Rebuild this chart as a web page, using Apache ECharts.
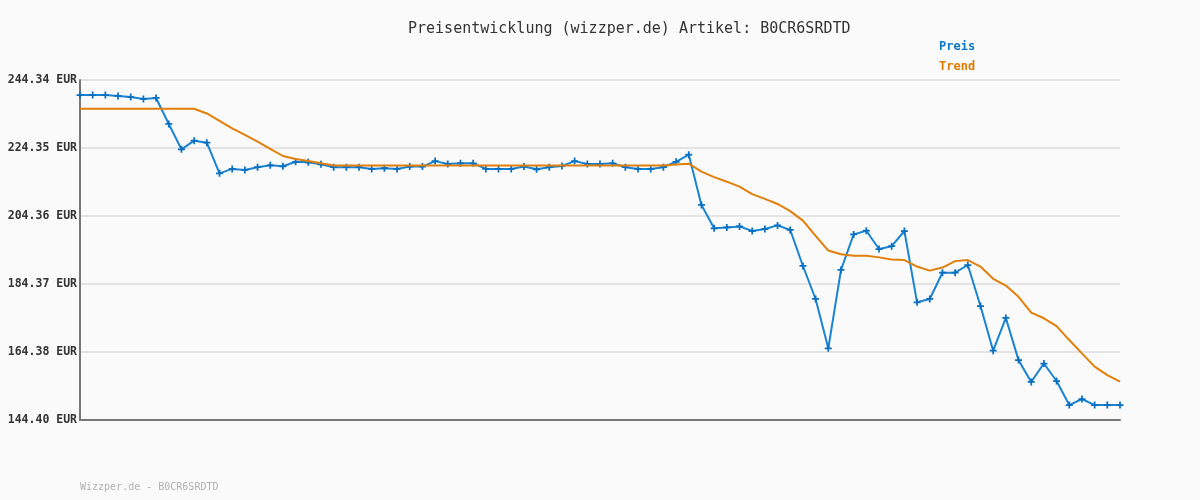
<!DOCTYPE html>
<html>
<head>
<meta charset="utf-8">
<script src="https://cdn.jsdelivr.net/npm/echarts@6/dist/echarts.min.js"></script>
<style>
html,body{margin:0;padding:0;background:#fafafa;}
#chart{width:1200px;height:500px;}
</style>
</head>
<body>
<div id="chart"></div>
<script>
var titleText = 'Preisentwicklung (wizzper.de) Artikel: B0CR6SRDTD';
var footerText = 'Wizzper.de - B0CR6SRDTD';
var tickLabels = ['144.40', '164.38', '184.37', '204.36', '224.35', '244.34'];
var axisMin = 144.40;
var axisMax = 244.34;

var priceValues = [
  239.93, 239.93, 239.93, 239.64, 239.34, 238.76, 239.05, 231.41, 223.97, 226.50,
  225.90, 216.90, 218.20, 217.90, 218.70, 219.25, 218.97, 220.30, 220.15, 219.56,
  218.70, 218.70, 218.70, 218.20, 218.40, 218.20, 218.90, 218.90, 220.50, 219.65,
  219.85, 219.85, 218.20, 218.20, 218.20, 218.90, 218.10, 218.70, 219.06, 220.50,
  219.65, 219.65, 219.85, 218.70, 218.20, 218.20, 218.70, 220.30, 222.40, 207.60,
  200.75, 201.00, 201.30, 199.95, 200.54, 201.60, 200.25, 189.67, 179.97, 165.46,
  188.50, 198.96, 200.04, 194.65, 195.50, 199.95, 178.99, 179.97, 187.70, 187.70,
  189.96, 177.90, 164.76, 174.40, 162.00, 155.60, 161.00, 155.86, 148.80, 150.57,
  148.80, 148.80, 148.80
];

var trendValues = [
  235.90, 235.90, 235.90, 235.90, 235.90, 235.90, 235.90, 235.90, 235.90, 235.90,
  234.50, 232.30, 230.10, 228.20, 226.20, 224.10, 222.00, 221.10, 220.50, 219.85,
  219.20, 219.20, 219.20, 219.20, 219.20, 219.20, 219.20, 219.20, 219.20, 219.20,
  219.20, 219.20, 219.20, 219.20, 219.20, 219.20, 219.20, 219.20, 219.20, 219.20,
  219.20, 219.20, 219.20, 219.20, 219.20, 219.20, 219.20, 219.50, 219.75, 217.40,
  215.80, 214.45, 213.00, 210.80, 209.40, 207.90, 205.80, 203.00, 198.50, 194.20,
  193.10, 192.70, 192.70, 192.20, 191.60, 191.40, 189.50, 188.30, 189.20, 191.10,
  191.40, 189.50, 185.90, 183.90, 180.60, 175.95, 174.30, 172.00, 167.90, 164.00,
  160.10, 157.60, 155.70
];

var categories = priceValues.map(function (v, i) { return String(i + 1); });

// map EUR values to tick-step units so that axis ticks fall exactly on the labelled values
var step = (axisMax - axisMin) / (tickLabels.length - 1);
function toUnits(v) { return (v - axisMin) / step; }

var mono = '"DejaVu Sans Mono", "Liberation Mono", monospace';
var blue = '#1a84d2';
var orange = '#e27f0a';

var chart = echarts.init(document.getElementById('chart'), null, {renderer: 'canvas'});
chart.setOption({
  backgroundColor: '#fafafa',
  animation: false,
  title: {
    text: titleText,
    left: 403,
    top: 17,
    textStyle: {fontFamily: mono, fontSize: 15, fontWeight: 'normal', color: '#333'}
  },
  graphic: [
    {type: 'text', left: 939, top: 41, style: {text: 'Preis', fill: '#0b78c8', font: 'bold 12px ' + mono}},
    {type: 'text', left: 939, top: 61, style: {text: 'Trend', fill: '#e07a00', font: 'bold 12px ' + mono}},
    {type: 'text', left: 80, top: 482, style: {text: footerText, fill: '#b0b0b0', font: '10px ' + mono}}
  ],
  grid: {left: 80, right: 80, top: 80, bottom: 80, containLabel: false},
  xAxis: {
    type: 'category',
    data: categories,
    boundaryGap: false,
    axisLine: {show: true, lineStyle: {color: '#777777', width: 2}},
    axisTick: {show: false},
    axisLabel: {show: false},
    splitLine: {show: false}
  },
  yAxis: {
    type: 'value',
    min: 0,
    max: tickLabels.length - 1,
    interval: 1,
    axisLine: {show: true, lineStyle: {color: '#777777', width: 2}},
    axisTick: {show: false},
    axisLabel: {
      margin: 3,
      fontFamily: mono,
      fontSize: 11.5,
      fontWeight: 'bold',
      color: '#333',
      formatter: function (val) { return tickLabels[Math.round(val)] + ' EUR'; }
    },
    splitLine: {show: true, lineStyle: {color: '#e4e4e4', width: 2}}
  },
  series: [
    {
      name: 'Preis',
      type: 'line',
      data: priceValues.map(toUnits),
      symbol: 'path://M3,0H5V3H8V5H5V8H3V5H0V3H3Z',
      symbolSize: 7,
      showAllSymbol: true,
      lineStyle: {color: blue, width: 2},
      itemStyle: {color: '#0a6fc0'},
      z: 2
    },
    {
      name: 'Trend',
      type: 'line',
      data: trendValues.map(toUnits),
      symbol: 'none',
      lineStyle: {color: orange, width: 2},
      z: 3
    }
  ]
});
</script>
</body>
</html>
